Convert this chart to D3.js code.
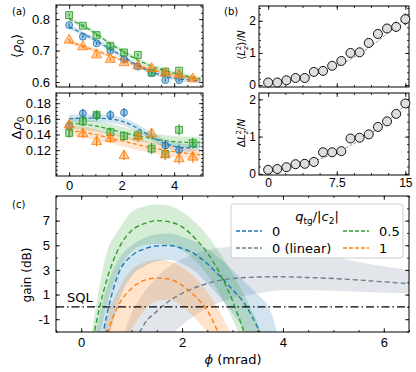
<!DOCTYPE html>
<html>
<head>
<meta charset="utf-8">
<script src="https://cdn.jsdelivr.net/npm/d3@7"></script>
<style>
  body { margin: 0; background: #fff; }
  svg { font-family: "DejaVu Sans", sans-serif; }
  .tick text { fill: #000; }
</style>
</head>
<body>
<svg id="fig" width="416" height="372"></svg>
<script>
// ---- panel (a) data: x is in units of the phase (k * pi/6)
const aX = [0, 0.524, 1.047, 1.571, 2.094, 2.618, 3.142, 3.665, 4.189, 4.712];
const rhoBlue   = [0.781, 0.744, 0.723, 0.700, 0.672, 0.649, 0.628, 0.606, 0.606, null];
const rhoGreen  = [0.813, 0.779, 0.749, 0.715, 0.694, 0.686, 0.630, 0.633, 0.636, null];
const rhoOrange = [0.733, 0.712, 0.686, 0.672, 0.661, 0.651, 0.643, 0.628, 0.622, 0.610];
const dRhoBlue   = [0.151, 0.167, 0.164, 0.165, 0.168, null, null, 0.126, 0.120, null];
const dRhoGreen  = [0.142, 0.157, 0.165, 0.143, 0.138, 0.139, 0.122, 0.115, 0.146, 0.129];
const dRhoOrange = [0.152, 0.141, 0.131, 0.135, 0.113, 0.137, 0.141, 0.114, 0.109, 0.111];
const dRhoErr    = [0.006, 0.006, 0.006, 0.006, 0.006, 0.007, 0.007, 0.007, 0.007, 0.007];

// fits for (a), sampled at fitX
const fitX = [0, 0.5, 1, 1.5, 2, 2.5, 3, 3.5, 4, 4.5, 5];
const rhoFitBlue   = [0.775, 0.755, 0.733, 0.708, 0.683, 0.658, 0.637, 0.622, 0.612, 0.607, 0.604];
const rhoFitGreen  = [0.800, 0.780, 0.755, 0.725, 0.700, 0.675, 0.655, 0.640, 0.628, 0.618, 0.610];
const rhoFitOrange = [0.728, 0.715, 0.700, 0.685, 0.670, 0.655, 0.643, 0.632, 0.622, 0.615, 0.608];
const dRhoFitBlue   = [0.160, 0.161, 0.161, 0.160, 0.157, 0.150, 0.140, 0.131, 0.125, 0.123, 0.125];
const dRhoFitGreen  = [0.155, 0.153, 0.151, 0.147, 0.143, 0.139, 0.136, 0.133, 0.131, 0.130, 0.130];
const dRhoFitOrange = [0.145, 0.143, 0.140, 0.136, 0.132, 0.128, 0.124, 0.121, 0.118, 0.116, 0.114];

// ---- panel (b) data
const bX = d3.range(0, 16);
const lz2     = [0.08, 0.08, 0.15, 0.22, 0.22, 0.41, 0.44, 0.60, 0.75, 1.00, 1.02, 1.31, 1.59, 1.76, 1.81, 2.05];
const lz2Err  = [0.03, 0.03, 0.03, 0.04, 0.04, 0.05, 0.05, 0.06, 0.07, 0.08, 0.08, 0.10, 0.12, 0.14, 0.16, 0.18];
const lz2Fit  = [0.07, 0.09, 0.13, 0.18, 0.24, 0.32, 0.41, 0.52, 0.65, 0.80, 0.97, 1.16, 1.37, 1.60, 1.84, 2.08];
const dLz2    = [0.11, 0.13, 0.18, 0.26, 0.27, 0.32, 0.58, 0.58, 0.61, 0.95, 0.97, 1.06, 1.26, 1.41, 1.61, 1.89];
const dLz2Err = [0.03, 0.03, 0.03, 0.03, 0.04, 0.04, 0.05, 0.05, 0.05, 0.06, 0.06, 0.07, 0.08, 0.08, 0.09, 0.10];
const dLz2Fit = [0.10, 0.12, 0.16, 0.21, 0.27, 0.34, 0.43, 0.53, 0.64, 0.76, 0.90, 1.05, 1.22, 1.41, 1.62, 1.86];

// ---- panel (c) data: gain (dB) vs phi (mrad)
const phi = [0, 0.25, 0.5, 0.75, 1, 1.25, 1.5, 1.75, 2, 2.25, 2.5, 2.75, 3, 3.25, 3.5, 3.75, 4, 4.5, 5, 5.5, 6, 6.5];
const gainBlue    = [-12, -6.5, -0.8, 2.8, 4.15, 4.7, 4.95, 4.98, 4.75, 4.3, 3.5, 2.5, 1.4, 0.2, -1.7, -4, -7, null, null, null, null, null];
const gainBlueHi  = [-10, -3, 1.5, 3.9, 5.0, 5.6, 5.9, 5.95, 5.7, 5.3, 4.7, 3.9, 3.0, 2.0, 1.0, -0.3, -4, null, null, null, null, null];
const gainBlueLo  = [-15, -9, -3.5, 0.5, 2.5, 3.3, 3.7, 3.8, 3.5, 2.9, 1.9, 0.8, -0.5, -2, -4, -7, -10, null, null, null, null, null];
const gainGreen   = [-9, -2.3, 2.1, 4.8, 6.2, 6.75, 7.0, 6.9, 6.5, 5.6, 4.4, 2.7, 0.5, -2.3, -5.5, -9, null, null, null, null, null, null];
const gainGreenHi = [-8, -1, 4.3, 6.3, 7.7, 8.15, 8.3, 8.2, 7.7, 6.9, 5.8, 4.4, 2.7, 0.8, -1.3, -4, -7, null, null, null, null, null];
const gainGreenLo = [-12, -5, 0, 3, 4.5, 5.0, 5.1, 5.0, 4.6, 3.8, 2.6, 1.0, -1.0, -3.5, -7, -10, null, null, null, null, null, null];
const gainOrange   = [-15, -9, -2.6, 0.2, 1.5, 2.15, 2.33, 2.25, 1.75, 0.9, -0.3, -2.4, -5, null, null, null, null, null, null, null, null, null];
const gainOrangeHi = [-12, -6, -1.0, 1.5, 3.0, 3.6, 3.85, 3.7, 3.2, 2.4, 1.2, -0.4, -2.5, -5, null, null, null, null, null, null, null, null];
const gainOrangeLo = [-18, -12, -5, -3.5, -1.8, -0.3, 0.5, 0.55, 0.1, -0.9, -2.1, -4, -7, null, null, null, null, null, null, null, null, null];
const gainLin   = [null, null, null, -7, -3.6, -1.4, -0.35, 0.5, 1.1, 1.55, 1.9, 2.15, 2.3, 2.38, 2.42, 2.44, 2.44, 2.38, 2.3, 2.18, 2.03, 1.88];
const gainLinHi = [null, null, null, -3.5, -0.5, 1.2, 2.4, 3.3, 3.9, 4.3, 4.6, 4.8, 4.9, 4.95, 4.95, 4.9, 4.8, 4.45, 4.05, 3.65, 3.3, 3.0];
const gainLinLo = [null, null, null, -12, -8, -5.5, -3.8, -2.5, -1.5, -0.7, -0.1, 0.35, 0.7, 0.9, 1.1, 1.25, 1.35, 1.35, 1.3, 1.22, 1.15, 1.1];

const legendLabels = ["0", "0 (linear)", "0.5", "1"];

const C = { blue: "#1f77b4", orange: "#ff7f0e", green: "#2ca02c", gray: "#6f7f90" };

const svg = d3.select("#fig");

// generic framed axes with inward ticks on all four sides
function panel(o) {
  const g = svg.append("g").attr("transform", `translate(${o.left},${o.top})`);
  const w = o.width, h = o.height;
  const x = d3.scaleLinear().domain(o.xDomain).range([0, w]);
  const y = d3.scaleLinear().domain(o.yDomain).range([h, 0]);
  const id = "clip" + o.name;
  g.append("clipPath").attr("id", id).append("rect").attr("width", w).attr("height", h);
  const plot = g.append("g").attr("clip-path", `url(#${id})`);

  const fs = o.fontSize || 13;
  const mk = (axis, sc, vals, size, fmt, tr) => {
    const a = g.append("g").attr("transform", tr || null)
      .call(axis(sc).tickValues(vals).tickSize(-size).tickPadding(o.pad || 4).tickFormat(fmt));
    a.select(".domain").remove();
    a.selectAll("text").filter(function () { return !this.textContent; }).remove();
    a.selectAll("text").style("font-size", fs + "px");
    a.selectAll("line").attr("stroke", "#000").attr("stroke-width", 0.8);
    return a;
  };
  mk(d3.axisBottom, x, o.xMinor, 2, () => "", `translate(0,${h})`);
  mk(d3.axisTop, x, o.xMinor, 2, () => "");
  mk(d3.axisLeft, y, o.yMinor, 2, () => "");
  mk(d3.axisRight, y, o.yMinor, 2, () => "", `translate(${w},0)`);
  mk(d3.axisBottom, x, o.xMajor, 4, o.xFmt || (() => ""), `translate(0,${h})`);
  mk(d3.axisTop, x, o.xMajor, 4, () => "");
  mk(d3.axisLeft, y, o.yMajor, 4, o.yFmt || (() => ""));
  mk(d3.axisRight, y, o.yMajor, 4, () => "", `translate(${w},0)`);

  g.append("rect").attr("width", w).attr("height", h)
    .attr("fill", "none").attr("stroke", "#000").attr("stroke-width", 1);
  return { g, plot, x, y, w, h };
}

function band(p, xs, lo, hi, color, op) {
  const pts = xs.map((v, i) => [v, lo[i], hi[i]]).filter(d => d[1] != null && d[2] != null);
  p.plot.append("path").datum(pts)
    .attr("fill", color).attr("fill-opacity", op).attr("stroke", "none")
    .attr("d", d3.area().x(d => p.x(d[0])).y0(d => p.y(d[1])).y1(d => p.y(d[2])).curve(d3.curveMonotoneX));
}
function dashed(p, xs, ys, color, width, dash) {
  const pts = xs.map((v, i) => [v, ys[i]]).filter(d => d[1] != null);
  p.plot.append("path").datum(pts)
    .attr("fill", "none").attr("stroke", color).attr("stroke-width", width)
    .attr("stroke-dasharray", dash)
    .attr("d", d3.line().x(d => p.x(d[0])).y(d => p.y(d[1])).curve(d3.curveMonotoneX));
}
function markers(p, xs, ys, errs, shape, color, size) {
  const pts = xs.map((v, i) => [v, ys[i], errs[i]]).filter(d => d[1] != null);
  const grp = p.g.append("g");
  grp.selectAll("line.err").data(pts).join("line")
    .attr("x1", d => p.x(d[0])).attr("x2", d => p.x(d[0]))
    .attr("y1", d => p.y(d[1] - d[2])).attr("y2", d => p.y(d[1] + d[2]))
    .attr("stroke", color).attr("stroke-width", 1.2);
  grp.selectAll("path.m").data(pts).join("path")
    .attr("transform", d => `translate(${p.x(d[0])},${p.y(d[1])})`)
    .attr("d", d3.symbol().type(shape).size(size))
    .attr("fill", color).attr("fill-opacity", 0.38)
    .attr("stroke", color).attr("stroke-opacity", 0.85).attr("stroke-width", 1);
}

// ---------------- (a) top
const aTop = panel({
  name: "a1", left: 56, top: 5, width: 147, height: 82,
  xDomain: [-0.5, 5.1], yDomain: [0.584, 0.845],
  xMajor: [0, 2, 4], xMinor: d3.range(-0.5, 5.1, 0.5),
  yMajor: [0.6, 0.7, 0.8], yMinor: d3.range(0.6, 0.845, 0.02),
  yFmt: d3.format(".1f"), pad: 6
});
const smallErr = aX.map(() => 0.005);
band(aTop, fitX, rhoFitBlue.map(v => v - 0.007), rhoFitBlue.map(v => v + 0.007), C.blue, 0.2);
band(aTop, fitX, rhoFitGreen.map(v => v - 0.007), rhoFitGreen.map(v => v + 0.007), C.green, 0.2);
band(aTop, fitX, rhoFitOrange.map(v => v - 0.007), rhoFitOrange.map(v => v + 0.007), C.orange, 0.2);
dashed(aTop, fitX, rhoFitBlue, C.blue, 1.2, "4,2.5");
dashed(aTop, fitX, rhoFitGreen, C.green, 1.2, "4,2.5");
dashed(aTop, fitX, rhoFitOrange, C.orange, 1.2, "4,2.5");
markers(aTop, aX, rhoBlue, smallErr, d3.symbolCircle, C.blue, 38);
markers(aTop, aX, rhoGreen, smallErr, d3.symbolSquare, C.green, 48);
markers(aTop, aX, rhoOrange, smallErr, d3.symbolTriangle, C.orange, 44);

// ---------------- (a) bottom
const aBot = panel({
  name: "a2", left: 56, top: 93, width: 147, height: 83,
  xDomain: [-0.5, 5.1], yDomain: [0.087, 0.193],
  xMajor: [0, 2, 4], xMinor: d3.range(-0.5, 5.1, 0.5),
  yMajor: [0.12, 0.14, 0.16, 0.18], yMinor: d3.range(0.09, 0.193, 0.005),
  xFmt: d3.format("d"), yFmt: d3.format(".2f"), pad: 5
});
band(aBot, fitX, dRhoFitBlue.map(v => v - 0.005), dRhoFitBlue.map(v => v + 0.005), C.blue, 0.2);
band(aBot, fitX, dRhoFitGreen.map(v => v - 0.007), dRhoFitGreen.map(v => v + 0.007), C.green, 0.2);
band(aBot, fitX, dRhoFitOrange.map(v => v - 0.007), dRhoFitOrange.map(v => v + 0.007), C.orange, 0.2);
dashed(aBot, fitX, dRhoFitBlue, C.blue, 1.2, "4,2.5");
dashed(aBot, fitX, dRhoFitGreen, C.green, 1.2, "4,2.5");
dashed(aBot, fitX, dRhoFitOrange, C.orange, 1.2, "4,2.5");
markers(aBot, aX, dRhoBlue, dRhoErr, d3.symbolCircle, C.blue, 38);
markers(aBot, aX, dRhoGreen, dRhoErr, d3.symbolSquare, C.green, 48);
markers(aBot, aX, dRhoOrange, dRhoErr, d3.symbolTriangle, C.orange, 44);

// ---------------- (b) top
const bTop = panel({
  name: "b1", left: 259, top: 6, width: 150, height: 81,
  xDomain: [-1, 15.4], yDomain: [-0.06, 2.46],
  xMajor: [0, 7.5, 15], xMinor: d3.range(0, 15.4, 1.875),
  yMajor: [0, 1, 2], yMinor: d3.range(0, 2.46, 0.2),
  yFmt: d3.format("d"), pad: 3, fontSize: 12
});
dashed(bTop, bX, lz2Fit, "#7d93ad", 1, "3,1.5");
function grayPoints(p, ys, errs) {
  const grp = p.g.append("g");
  grp.selectAll("line").data(bX).join("line")
    .attr("x1", (d) => p.x(d)).attr("x2", (d) => p.x(d))
    .attr("y1", (d, i) => p.y(ys[i] - errs[i])).attr("y2", (d, i) => p.y(ys[i] + errs[i]))
    .attr("stroke", "#111").attr("stroke-width", 1.3);
  grp.selectAll("circle").data(bX).join("circle")
    .attr("cx", (d) => p.x(d)).attr("cy", (d, i) => p.y(ys[i])).attr("r", 4.5)
    .attr("fill", "#dedede").attr("stroke", "#111").attr("stroke-width", 1);
}
grayPoints(bTop, lz2, lz2Err);

// ---------------- (b) bottom
const bBot = panel({
  name: "b2", left: 259, top: 93, width: 150, height: 82,
  xDomain: [-1, 15.4], yDomain: [-0.03, 2.17],
  xMajor: [0, 7.5, 15], xMinor: d3.range(0, 15.4, 1.875),
  yMajor: [0, 1, 2], yMinor: d3.range(0, 2.17, 0.2),
  xFmt: d => d === 7.5 ? "7.5" : d3.format("d")(d), yFmt: d3.format("d"), pad: 3, fontSize: 12
});
dashed(bBot, bX, dLz2Fit, "#7d93ad", 1, "3,1.5");
grayPoints(bBot, dLz2, dLz2Err);

// ---------------- (c)
const cP = panel({
  name: "c", left: 56, top: 196, width: 353, height: 136,
  xDomain: [-0.5, 6.5], yDomain: [-2.04, 9.0],
  xMajor: [0, 2, 4, 6], xMinor: d3.range(-0.5, 6.6, 0.5),
  yMajor: [-1, 1, 3, 5, 7], yMinor: d3.range(-2, 9.1, 1),
  xFmt: d3.format("d"), yFmt: d => d < 0 ? "-" + Math.abs(d) : String(d), pad: 6
});
band(cP, phi, gainLinLo, gainLinHi, "#8a9aab", 0.25);
band(cP, phi, gainOrangeLo, gainOrangeHi, C.orange, 0.22);
band(cP, phi, gainBlueLo, gainBlueHi, C.blue, 0.2);
band(cP, phi, gainGreenLo, gainGreenHi, C.green, 0.2);
dashed(cP, phi, gainLin, C.gray, 1.4, "5,3");
dashed(cP, phi, gainOrange, C.orange, 1.4, "5,3");
dashed(cP, phi, gainBlue, C.blue, 1.4, "5,3");
dashed(cP, phi, gainGreen, C.green, 1.4, "5,3");
// SQL reference line
cP.plot.append("line")
  .attr("x1", 0).attr("x2", cP.w).attr("y1", cP.y(0)).attr("y2", cP.y(0))
  .attr("stroke", "#000").attr("stroke-width", 1.3).attr("stroke-dasharray", "8,3,1.5,3");
cP.g.append("text").attr("x", cP.x(-0.28)).attr("y", cP.y(0) - 5)
  .attr("font-size", 13).text("SQL");

// legend
const lg = cP.g.append("g").attr("transform", `translate(${231 - 56},${204 - 196})`);
lg.append("rect").attr("width", 172).attr("height", 54).attr("rx", 3)
  .attr("fill", "#fff").attr("fill-opacity", 0.85).attr("stroke", "#cccccc").attr("stroke-width", 1);
const title = lg.append("text").attr("x", 86).attr("y", 17).attr("text-anchor", "middle").attr("font-size", 13);
title.append("tspan").attr("font-style", "italic").text("q");
title.append("tspan").attr("font-size", 9).attr("dy", 3).text("tg");
title.append("tspan").attr("dy", -3).text("/|");
title.append("tspan").attr("font-style", "italic").text("c");
title.append("tspan").attr("font-size", 9).attr("dy", 3).text("2");
title.append("tspan").attr("dy", -3).text("|");
const legendItems = [
  { label: legendLabels[0], color: C.blue, x: 5, y: 27 },
  { label: legendLabels[1], color: C.gray, x: 5, y: 44 },
  { label: legendLabels[2], color: C.green, x: 112, y: 27 },
  { label: legendLabels[3], color: C.orange, x: 112, y: 44 }
];
legendItems.forEach(d => {
  lg.append("line").attr("x1", d.x).attr("x2", d.x + 26).attr("y1", d.y).attr("y2", d.y)
    .attr("stroke", d.color).attr("stroke-width", 1.4).attr("stroke-dasharray", "4,2");
  lg.append("text").attr("x", d.x + 36).attr("y", d.y + 4.5).attr("font-size", 13).text(d.label);
});

// ---------------- axis labels
function rotLabel(x, y, build, fs) {
  const t = svg.append("text").attr("transform", `translate(${x},${y}) rotate(-90)`)
    .attr("text-anchor", "middle").attr("font-size", fs);
  build(t);
}
rotLabel(21, 46, t => {
  t.append("tspan").text("⟨");
  t.append("tspan").attr("font-style", "italic").text("ρ");
  t.append("tspan").attr("font-size", 9).attr("dy", 3).text("0");
  t.append("tspan").attr("dy", -3).text("⟩");
}, 13);
rotLabel(21, 128, t => {
  t.append("tspan").text("Δ");
  t.append("tspan").attr("font-style", "italic").text("ρ");
  t.append("tspan").attr("font-size", 9).attr("dy", 3).text("0");
}, 13);
function lzLabel(t, prefix) {
  t.append("tspan").text(prefix);
  t.append("tspan").attr("font-style", "italic").text("L");
  t.append("tspan").attr("font-size", 7).attr("font-style", "italic").attr("dy", 2.5).text("z");
  t.append("tspan").attr("font-size", 7).attr("dx", -4).attr("dy", -7).text("2");
  t.append("tspan").attr("dy", 4.5).text((prefix === "⟨" ? "⟩" : "") + "/");
  t.append("tspan").attr("font-style", "italic").text("N");
}
rotLabel(245, 45, t => lzLabel(t, "⟨"), 10.5);
rotLabel(245, 133, t => lzLabel(t, "Δ"), 10.5);
rotLabel(31, 275, t => t.text("gain (dB)"), 12);
const xl = svg.append("text").attr("x", 233).attr("y", 364).attr("text-anchor", "middle").attr("font-size", 13);
xl.append("tspan").attr("font-style", "italic").text("ϕ");
xl.append("tspan").text(" (mrad)");

// panel tags
svg.append("text").attr("x", 12).attr("y", 15).attr("font-size", 10).text("(a)");
svg.append("text").attr("x", 224).attr("y", 15).attr("font-size", 10).text("(b)");
svg.append("text").attr("x", 12).attr("y", 208).attr("font-size", 10).text("(c)");
</script>
</body>
</html>
